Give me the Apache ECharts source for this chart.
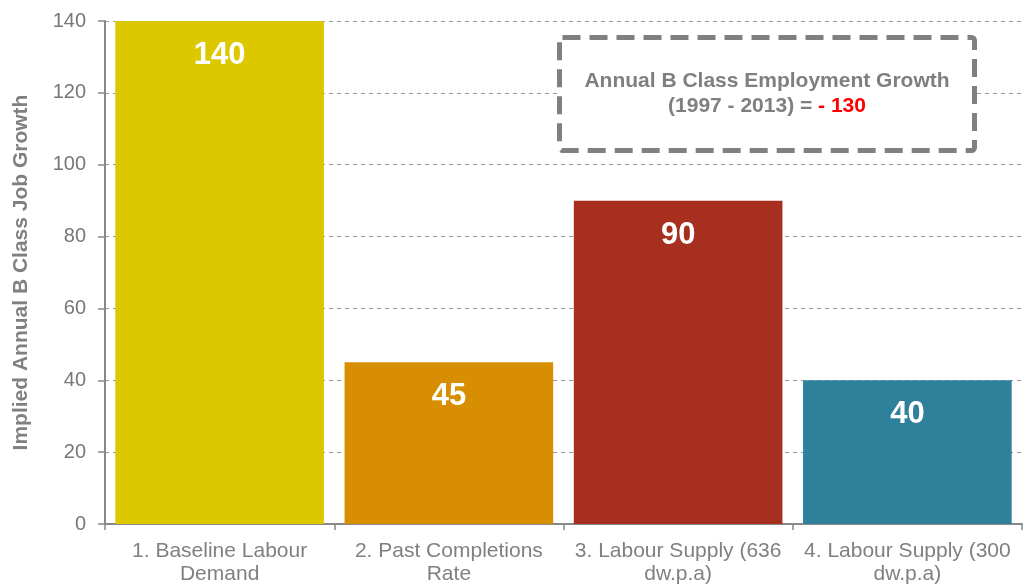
<!DOCTYPE html>
<html>
<head>
<meta charset="utf-8">
<script src="https://cdn.jsdelivr.net/npm/echarts@6/dist/echarts.min.js"></script>
<style>
  html, body { margin: 0; padding: 0; background: #fff; }
  #chart { width: 1024px; height: 584px; }
</style>
</head>
<body>
<div id="chart"></div>
<script>
var categories = [
  "1. Baseline Labour\nDemand",
  "2. Past Completions\nRate",
  "3. Labour Supply (636\ndw.p.a)",
  "4. Labour Supply (300\ndw.p.a)"
];
var jobGrowth = [140, 45, 90, 40];
var barColors = ["#DDC800", "#D78E00", "#A72F1F", "#2E809B"];
var yTicks = { min: 0, max: 140, interval: 20 };
var noteLine1 = "Annual B Class Employment Growth";
var noteLine2 = "(1997 - 2013) = ";
var noteValue = "- 130";

var chart = echarts.init(document.getElementById("chart"));
var font = "Liberation Sans, Arial, sans-serif";

var option = {
  animation: false,
  textStyle: { fontFamily: font },
  grid: { left: 105, right: 2, top: 21, bottom: 60, outerBoundsMode: "none", containLabel: false },
  xAxis: {
    type: "category",
    data: categories,
    axisLine: { lineStyle: { color: "#888", width: 2 } },
    axisTick: { show: true, length: 6, lineStyle: { color: "#888", width: 1.5 } },
    axisLabel: { color: "#808080", fontSize: 21, lineHeight: 23, margin: 16, interval: 0 }
  },
  yAxis: {
    type: "value",
    min: yTicks.min,
    max: yTicks.max,
    interval: yTicks.interval,
    name: "Implied Annual B Class Job Growth",
    nameLocation: "middle",
    nameGap: 73,
    nameTextStyle: { color: "#808080", fontSize: 21, fontWeight: "bold" },
    axisLine: { show: true, lineStyle: { color: "#888", width: 2 } },
    axisTick: { show: true, length: 7, lineStyle: { color: "#888", width: 1.5 } },
    axisLabel: { color: "#777", fontSize: 20, margin: 19 },
    splitLine: { lineStyle: { color: "#999", type: [4, 4], width: 1 } }
  },
  series: [
    {
      type: "bar",
      barCategoryGap: "9%",
      data: jobGrowth.map(function (v, i) {
        return { value: v, itemStyle: { color: barColors[i] } };
      }),
      label: {
        show: true,
        position: "insideTop",
        distance: 19,
        color: "#fff",
        fontSize: 31,
        fontWeight: "bold"
      }
    }
  ],
  graphic: [
    {
      type: "rect",
      left: 557,
      top: 35,
      shape: { width: 415, height: 113, r: 3 },
      style: { fill: "#fff", stroke: "#808080", lineWidth: 5, lineDash: [18, 9] },
      z: 10,
      textContent: {
        style: {
          text: noteLine1 + "\n{b|" + noteLine2 + "}{r|" + noteValue + "}",
          fill: "#7f7f7f",
          fontFamily: font,
          fontSize: 21,
          fontWeight: "bold",
          lineHeight: 25,
          align: "center",
          rich: {
            b: { fill: "#7f7f7f", fontSize: 21, fontWeight: "bold", fontFamily: font, lineHeight: 25 },
            r: { fill: "#ff0000", fontSize: 21, fontWeight: "bold", fontFamily: font, lineHeight: 25 }
          }
        },
        z: 11
      },
      textConfig: { position: "inside" }
    }
  ]
};

chart.setOption(option);
</script>
</body>
</html>
